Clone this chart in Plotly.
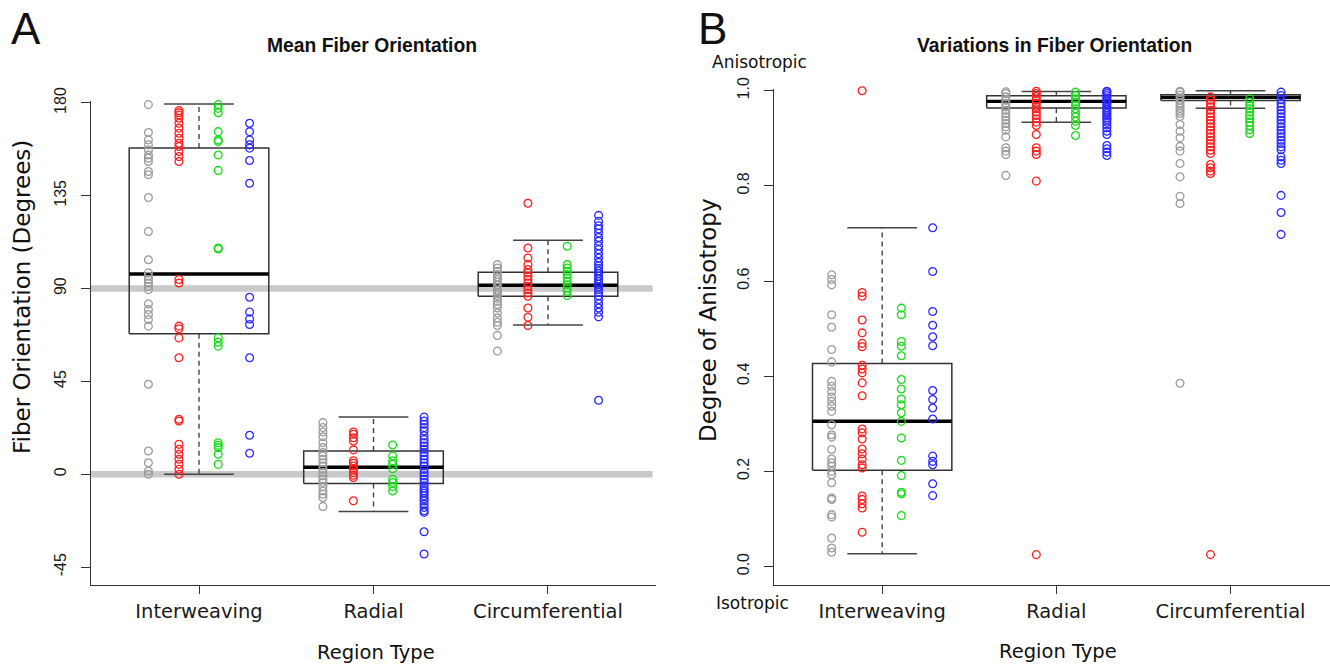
import plotly.graph_objects as go

# ---------------- data ----------------
categories = ["Interweaving", "Radial", "Circumferential"]

# Panel A: Mean fiber orientation (degrees)
A_iw_gray = [179.2, 165.7, 162.1, 159.7, 157.3, 154.8, 153.2, 151.6, 146.8, 145.2, 134.2, 117.7, 104.0, 97.6, 96.0,
             94.4, 92.7, 91.1, 89.5, 82.6, 79.8, 77.4, 75.0, 71.8, 43.6, 11.3, 5.6, 1.6, 0.0]
A_iw_red = [176.3, 175.3, 174.2, 172.6, 170.2, 167.8, 165.3, 162.9, 160.5, 158.9, 156.5, 154.0, 151.6, 94.4, 92.7,
            71.8, 70.5, 66.1, 56.5, 26.6, 25.8, 14.5, 12.1, 9.7, 7.3, 4.8, 2.4, 0.0]
A_iw_green = [179.2, 177.4, 175.3, 166.1, 162.1, 161.3, 154.8, 147.3, 109.7, 109.2, 66.1, 64.0, 62.1, 15.3, 14.0,
              12.9, 9.7, 4.8]
A_iw_blue = [170.2, 166.1, 162.1, 159.7, 158.1, 152.1, 141.1, 85.8, 78.6, 75.3, 72.6, 56.5, 18.9, 10.2]

A_rad_gray = [25.0, 22.6, 20.5, 18.2, 15.3, 12.9, 10.5, 8.9, 7.3, 5.6, 4.0, 2.4, 0.8, -0.8, -2.4, -4.0, -6.0, -8.1,
              -9.7, -11.3, -15.6]
A_rad_red = [20.5, 19.4, 17.7, 16.1, 11.8, 6.5, 5.3, 4.0, 2.4, 0.8, -0.5, -1.6, -12.9]
A_rad_green = [14.2, 8.9, 6.5, 4.8, 2.7, -2.4, -4.0, -6.0, -8.1]
A_rad_blue = [27.7, 25.8, 24.2, 22.6, 21.0, 18.6, 16.9, 15.3, 13.7, 12.1, 10.5, 8.9, 7.3, 5.6, 4.0, 2.4, 0.8, -0.8,
              -2.4, -4.0, -5.6, -6.9, -8.1, -9.2, -10.5, -11.8, -12.9, -14.5, -16.1, -17.7, -18.5, -27.9, -38.7]

A_circ_gray = [101.6, 100.0, 98.4, 96.8, 95.6, 94.4, 93.1, 91.8, 90.5, 89.2, 87.9, 86.6, 85.3, 83.9, 82.3, 80.6,
               78.2, 75.8, 73.7, 72.1, 67.3, 59.7]
A_circ_red = [131.4, 109.7, 104.8, 101.6, 99.2, 97.6, 96.0, 94.4, 92.7, 91.1, 89.5, 87.9, 86.3, 80.6, 76.1, 72.1]
A_circ_green = [110.5, 101.6, 100.0, 98.4, 96.8, 95.2, 93.5, 91.9, 90.3, 88.7, 86.6]
A_circ_blue = [125.5, 122.6, 120.5, 118.9, 116.9, 114.8, 112.9, 110.8, 108.9, 106.9, 104.8, 102.7, 101.1, 99.8,
               98.5, 97.3, 96.0, 94.7, 93.4, 92.1, 90.8, 89.5, 88.2, 86.6, 84.7, 82.7, 80.6, 78.5, 76.3, 35.9]

A_q1 = [68.1, -4.5, 86.3]
A_median = [97.1, 3.4, 91.6]
A_q3 = [158.2, 11.3, 97.9]
A_whisk_lo = [0.0, -18.1, 72.3]
A_whisk_hi = [179.5, 27.7, 113.4]
A_ref_lines = [0, 90]
A_yticks = [-45, 0, 45, 90, 135, 180]

# Panel B: Degree of anisotropy
B_iw_gray = [0.613, 0.603, 0.592, 0.529, 0.503, 0.456, 0.430, 0.389, 0.379, 0.368, 0.356, 0.347, 0.337, 0.326,
             0.298, 0.277, 0.272, 0.246, 0.226, 0.218, 0.211, 0.200, 0.193, 0.176, 0.144, 0.141, 0.109, 0.104,
             0.060, 0.039, 0.030]
B_iw_red = [1.0, 0.576, 0.568, 0.518, 0.491, 0.469, 0.462, 0.423, 0.415, 0.407, 0.386, 0.359, 0.289, 0.281, 0.268,
            0.247, 0.237, 0.226, 0.214, 0.207, 0.148, 0.141, 0.132, 0.123, 0.072]
B_iw_green = [0.543, 0.529, 0.473, 0.463, 0.443, 0.393, 0.373, 0.352, 0.340, 0.323, 0.305, 0.270, 0.223, 0.191,
              0.156, 0.153, 0.107]
B_iw_blue = [0.712, 0.620, 0.536, 0.507, 0.483, 0.464, 0.370, 0.351, 0.333, 0.310, 0.232, 0.221, 0.214, 0.174, 0.149]

B_rad_gray = [0.998, 0.994, 0.987, 0.980, 0.973, 0.966, 0.959, 0.952, 0.945, 0.938, 0.931, 0.924, 0.917, 0.903,
              0.880, 0.873, 0.866, 0.822]
B_rad_red = [0.999, 0.994, 0.988, 0.981, 0.974, 0.967, 0.962, 0.955, 0.948, 0.941, 0.934, 0.927, 0.908, 0.880,
             0.873, 0.866, 0.810, 0.025]
B_rad_green = [0.997, 0.990, 0.983, 0.976, 0.969, 0.962, 0.953, 0.945, 0.936, 0.927, 0.906]
B_rad_blue = [0.999, 0.998, 0.994, 0.990, 0.985, 0.981, 0.977, 0.973, 0.969, 0.964, 0.960, 0.956, 0.952, 0.948,
              0.943, 0.939, 0.934, 0.928, 0.922, 0.915, 0.908, 0.885, 0.878, 0.871, 0.864]

B_circ_gray = [0.999, 0.997, 0.991, 0.985, 0.980, 0.974, 0.969, 0.963, 0.957, 0.952, 0.946, 0.929, 0.915, 0.901,
               0.883, 0.873, 0.847, 0.819, 0.778, 0.763, 0.385]
B_circ_red = [0.987, 0.980, 0.973, 0.966, 0.959, 0.952, 0.945, 0.938, 0.931, 0.924, 0.917, 0.910, 0.903, 0.896,
              0.889, 0.882, 0.875, 0.868, 0.845, 0.838, 0.831, 0.826, 0.025]
B_circ_green = [0.983, 0.976, 0.969, 0.962, 0.955, 0.948, 0.941, 0.934, 0.927, 0.918, 0.910]
B_circ_blue = [0.997, 0.990, 0.981, 0.973, 0.966, 0.959, 0.952, 0.945, 0.938, 0.931, 0.924, 0.917, 0.910, 0.903,
               0.896, 0.889, 0.882, 0.876, 0.861, 0.854, 0.847, 0.780, 0.744, 0.698]

B_q1 = [0.2024, 0.9636, 0.9797]
B_median = [0.3053, 0.9776, 0.9860]
B_q3 = [0.4265, 0.9895, 0.9916]
B_whisk_lo = [0.0266, 0.9335, 0.9630]
B_whisk_hi = [0.712, 0.9986, 1.0]
B_yticks = [0.0, 0.2, 0.4, 0.6, 0.8, 1.0]
B_yticklabels = ["0.0", "0.2", "0.4", "0.6", "0.8", "1.0"]

# ---------------- styles ----------------
W, H = 1330, 664
group_colors = ["#9c9c9c", "#ff2020", "#18dc18", "#2a2aff"]
group_offsets = [-0.29, -0.115, 0.11, 0.29]
BOX_HALF = 0.4
CAP_HALF = 0.2
AXIS_COLOR = "#333333"
TICK_FONT = dict(family="DejaVu Sans", size=19.5, color="#1a1a1a")
YTICK_FONT = dict(family="Liberation Sans", size=16, color="#1a1a1a")


def px(x):
    return x / W


def py(y):
    return 1 - y / H


A_points = [[A_iw_gray, A_iw_red, A_iw_green, A_iw_blue],
            [A_rad_gray, A_rad_red, A_rad_green, A_rad_blue],
            [A_circ_gray, A_circ_red, A_circ_green, A_circ_blue]]
B_points = [[B_iw_gray, B_iw_red, B_iw_green, B_iw_blue],
            [B_rad_gray, B_rad_red, B_rad_green, B_rad_blue],
            [B_circ_gray, B_circ_red, B_circ_green, B_circ_blue]]

fig = go.Figure()


def add_boxes(q1, med, q3, lo, hi, xa, ya):
    bx, by, mx, my, wx, wy, cx, cy = [], [], [], [], [], [], [], []
    for i in range(len(categories)):
        c = i + 1
        bx += [c - BOX_HALF, c + BOX_HALF, c + BOX_HALF, c - BOX_HALF, c - BOX_HALF, None]
        by += [q1[i], q1[i], q3[i], q3[i], q1[i], None]
        mx += [c - BOX_HALF, c + BOX_HALF, None]
        my += [med[i], med[i], None]
        wx += [c, c, None, c, c, None]
        wy += [q3[i], hi[i], None, q1[i], lo[i], None]
        cx += [c - CAP_HALF, c + CAP_HALF, None, c - CAP_HALF, c + CAP_HALF, None]
        cy += [hi[i], hi[i], None, lo[i], lo[i], None]
    common = dict(xaxis=xa, yaxis=ya, mode="lines", showlegend=False, hoverinfo="skip")
    fig.add_trace(go.Scatter(x=wx, y=wy, line=dict(color="#444444", width=1.4, dash="5px,4px"), **common))
    fig.add_trace(go.Scatter(x=cx, y=cy, line=dict(color="#444444", width=1.5), **common))
    fig.add_trace(go.Scatter(x=bx, y=by, line=dict(color="#333333", width=1.5), **common))
    fig.add_trace(go.Scatter(x=mx, y=my, line=dict(color="#000000", width=3.4), **common))


def add_points(points, xa, ya):
    for i, groups in enumerate(points):
        for g, vals in enumerate(groups):
            fig.add_trace(go.Scatter(
                x=[i + 1 + group_offsets[g]] * len(vals), y=vals, xaxis=xa, yaxis=ya,
                mode="markers", showlegend=False, cliponaxis=False,
                marker=dict(symbol="circle-open", size=7.8, color=group_colors[g],
                            line=dict(width=1.3, color=group_colors[g]))))


# Panel A reference lines
rx, ry = [], []
for v in A_ref_lines:
    rx += [0.34, 3.6, None]
    ry += [v, v, None]
fig.add_trace(go.Scatter(x=rx, y=ry, xaxis="x", yaxis="y", mode="lines", showlegend=False,
                         cliponaxis=False, line=dict(color="#c9c9c9", width=6.5), hoverinfo="skip"))

add_boxes(A_q1, A_median, A_q3, A_whisk_lo, A_whisk_hi, "x", "y")
add_points(A_points, "x", "y")
add_boxes(B_q1, B_median, B_q3, B_whisk_lo, B_whisk_hi, "x2", "y2")
add_points(B_points, "x2", "y2")

axis_common = dict(showgrid=False, zeroline=False, showline=True, linecolor=AXIS_COLOR, linewidth=1.4,
                   ticks="outside", tickcolor=AXIS_COLOR, tickwidth=1.3, mirror=False, fixedrange=True,
                   automargin=False)

fig.update_layout(
    template="none",
    width=W, height=H,
    autosize=False,
    margin=dict(l=0, r=0, t=0, b=0, pad=0, autoexpand=False),
    paper_bgcolor="white", plot_bgcolor="white",
    font=dict(family="DejaVu Sans", color="#1a1a1a"),
    xaxis=dict(domain=[px(91), px(656)], range=[0.381, 3.619], tickvals=[1, 2, 3], ticktext=categories,
               ticklen=8, tickfont=TICK_FONT, anchor="y", **axis_common),
    yaxis=dict(domain=[py(585), py(100.9)], range=[-53.7, 181], tickvals=A_yticks,
               ticktext=[str(v) for v in A_yticks], tickangle=-90, ticklen=9, tickfont=YTICK_FONT,
               ticklabelstandoff=8, anchor="x", **axis_common),
    xaxis2=dict(domain=[px(774), 1.0], range=[0.379, 3.571], tickvals=[1, 2, 3], ticktext=categories,
                ticklen=8, tickfont=TICK_FONT, anchor="y2", **axis_common),
    yaxis2=dict(domain=[py(585), py(89.3)], range=[-0.0389, 1.003], tickvals=B_yticks,
                ticktext=B_yticklabels, tickangle=-90, ticklen=9, tickfont=YTICK_FONT,
                ticklabelstandoff=8, anchor="x2", **axis_common),
)

ann = []


def add_text(text, x, y, size, family="DejaVu Sans", bold=False, angle=0):
    ann.append(dict(text=f"<b>{text}</b>" if bold else text, x=px(x), y=py(y), xref="paper", yref="paper",
                    xanchor="center", yanchor="middle", showarrow=False, textangle=angle,
                    font=dict(family=family, size=size, color="#111111")))


add_text("A", 26, 29, 44, family="Liberation Sans")
add_text("B", 712, 29, 44, family="Liberation Sans")
add_text("Mean Fiber Orientation", 372, 46, 19.3, family="Liberation Sans", bold=True)
add_text("Variations in Fiber Orientation", 1054, 46, 19.3, family="Liberation Sans", bold=True)
add_text("Fiber Orientation (Degrees)", 22, 297, 23, angle=-90)
add_text("Degree of Anisotropy", 708, 320, 23, angle=-90)
add_text("Region Type", 376, 652, 19.5)
add_text("Region Type", 1058, 651, 19.5)
add_text("Anisotropic", 759, 62, 17)
add_text("Isotropic", 753, 603, 17)
fig.update_layout(annotations=ann)

fig.write_html("out.html", config={"responsive": False, "displayModeBar": False},
               post_script="document.body.style.margin='0';document.body.style.overflow='hidden';")
